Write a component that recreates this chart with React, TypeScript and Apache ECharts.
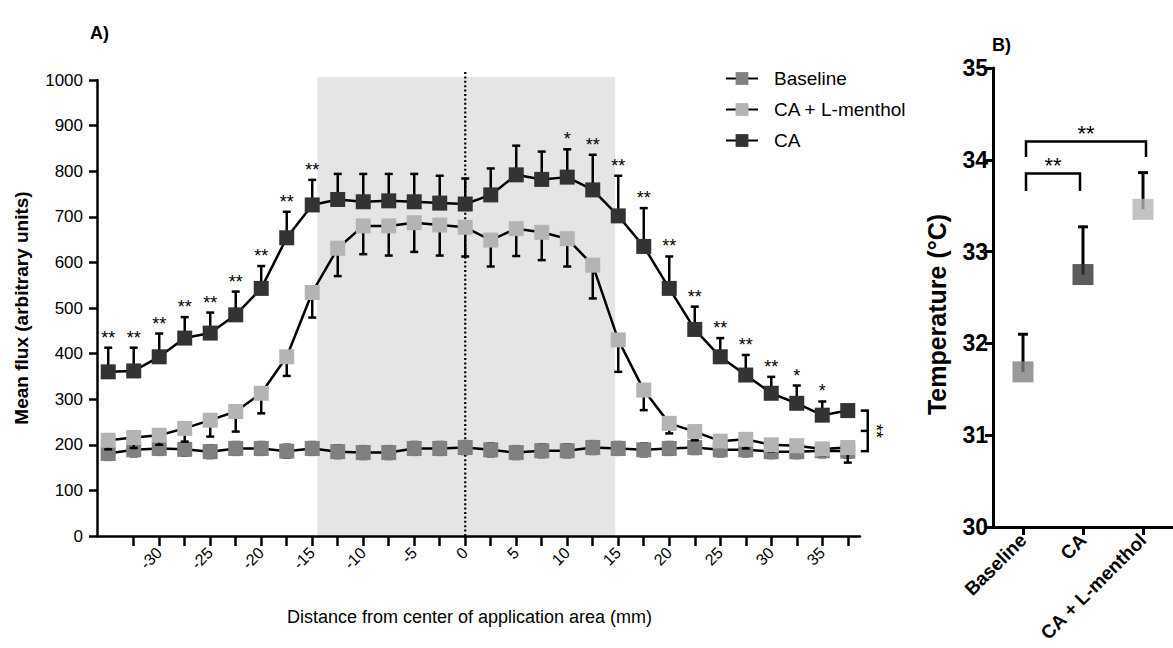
import React, { useEffect, useRef } from "react";
import * as echarts from "echarts";

// ---------- Panel A data ----------
const distances = [-35, -32.5, -30, -27.5, -25, -22.5, -20, -17.5, -15, -12.5, -10, -7.5, -5, -2.5, 0, 2.5, 5, 7.5, 10, 12.5, 15, 17.5, 20, 22.5, 25, 27.5, 30, 32.5, 35, 37.5];
const baseline = [181, 189, 192, 190, 185, 192, 192, 186, 192, 185, 183, 183, 192, 192, 194, 189, 183, 187, 187, 194, 192, 189, 192, 194, 189, 189, 185, 185, 187, 186];
const baselineErr = [14, 14, 14, 14, 14, 14, 14, 14, 14, 14, 14, 14, 14, 14, 14, 14, 14, 14, 14, 14, 14, 14, 14, 14, 14, 14, 14, 14, 14, 14];
const caMenthol = [210, 216, 221, 236, 254, 273, 313, 393, 534, 631, 680, 680, 687, 682, 677, 649, 674, 666, 652, 594, 430, 320, 247, 229, 208, 212, 200, 198, 191, 194];
const caMentholLow = [190, 193, 200, 207, 218, 229, 269, 351, 479, 570, 618, 615, 623, 615, 613, 591, 614, 605, 591, 521, 360, 276, 225, 210, 195, 192, 185, 185, 177, 161];
const ca = [360, 362, 393, 434, 445, 485, 543, 654, 726, 738, 733, 735, 733, 730, 728, 748, 792, 782, 787, 759, 702, 635, 543, 453, 393, 353, 313, 291, 265, 275];
const caHigh = [413, 413, 444, 480, 490, 536, 592, 711, 781, 794, 794, 794, 794, 790, 784, 806, 856, 843, 848, 836, 790, 719, 613, 503, 434, 397, 349, 330, 295, 278];
const caStars = ["**", "**", "**", "**", "**", "**", "**", "**", "**", "", "", "", "", "", "", "", "", "", "*", "**", "**", "**", "**", "**", "**", "**", "**", "*", "*", ""];
const xTickValues = [-32.5, -30, -27.5, -25, -22.5, -20, -17.5, -15, -12.5, -10, -7.5, -5, -2.5, 0, 2.5, 5, 7.5, 10, 12.5, 15, 17.5, 20, 22.5, 25, 27.5, 30, 32.5, 35, 37.5];
const xLabelValues = [-30, -25, -20, -15, -10, -5, 0, 5, 10, 15, 20, 25, 30, 35];
const shadeRange = [-14.5, 14.7];
const seriesNames = ["Baseline", "CA + L-menthol", "CA"];
const groupStars = "**";

// ---------- Panel B data ----------
const tempCategories = ["Baseline", "CA", "CA + L-menthol"];
const tempMean = [31.69, 32.75, 33.46];
const tempErrTop = [32.1, 33.27, 33.86];
const tempComparisons = [
  { from: 0, to: 1, level: 33.85, leg: 33.66, label: "**" },
  { from: 0, to: 2, level: 34.2, leg: 34.03, label: "**" },
];

// ---------- styles ----------
const FONT = "'Liberation Sans', Arial, Helvetica, sans-serif";
const C_BASE = "#808080";
const C_MENTH = "#b4b4b4";
const C_CA = "#333333";
const tempColors = [C_BASE, C_CA, C_MENTH];

function errorBars(xs: number[], lows: number[], highs: number[], capLow: boolean, capHigh: boolean, z: number, xi: number, yi: number, lw: number, cap: number) {
  return {
    type: "custom",
    xAxisIndex: xi,
    yAxisIndex: yi,
    z,
    silent: true,
    clip: false,
    data: xs.map((x, i) => [x, lows[i], highs[i]]),
    renderItem: (params: any, api: any) => {
      const x = api.value(0);
      const p1 = api.coord([x, api.value(1)]);
      const p2 = api.coord([x, api.value(2)]);
      const st = { stroke: "#000", lineWidth: lw };
      const children: any[] = [
        { type: "line", shape: { x1: p1[0], y1: p1[1], x2: p2[0], y2: p2[1] }, style: st },
      ];
      if (capLow) children.push({ type: "line", shape: { x1: p1[0] - cap, y1: p1[1], x2: p1[0] + cap, y2: p1[1] }, style: st });
      if (capHigh) children.push({ type: "line", shape: { x1: p2[0] - cap, y1: p2[1], x2: p2[0] + cap, y2: p2[1] }, style: st });
      return { type: "group", children };
    },
  };
}

export default function App() {
  const ref = useRef<HTMLDivElement>(null);

  useEffect(() => {
    if (!ref.current) return;
    const chart = echarts.init(ref.current, null, { renderer: "svg" });
    const last = distances.length - 1;

    const option: any = {
      animation: false,
      textStyle: { fontFamily: FONT, color: "#000" },
      grid: [
        { left: 97, top: 80, width: 763, height: 456 },
        { left: 993, top: 68, width: 180, height: 459 },
      ],
      legend: {
        orient: "vertical",
        left: 725,
        top: 69,
        padding: 0,
        itemWidth: 32,
        itemHeight: 16,
        itemGap: 12,
        data: seriesNames,
        textStyle: { fontSize: 19, color: "#000", fontFamily: FONT, padding: [0, 0, 0, 11], lineHeight: 19 },
      },
      graphic: [
        { type: "text", left: 90, top: 24, style: { text: "A)", fontSize: 18, fontWeight: "bold", fontFamily: FONT, fill: "#000" } },
        { type: "text", left: 992, top: 36, style: { text: "B)", fontSize: 18, fontWeight: "bold", fontFamily: FONT, fill: "#000" } },
      ],
      xAxis: [
        {
          type: "value",
          gridIndex: 0,
          min: -36.1,
          max: 38.7,
          z: 10,
          axisLine: { show: true, onZero: false, lineStyle: { color: "#000", width: 2.5 } },
          axisTick: { show: true, customValues: xTickValues, length: 10, lineStyle: { color: "#000", width: 2.5 } },
          axisLabel: { customValues: xLabelValues, rotate: 45, fontSize: 16, color: "#000", margin: 14, fontFamily: FONT, formatter: (v: number) => String(v) },
          splitLine: { show: false },
          name: "Distance from center of application area (mm)",
          nameLocation: "middle",
          nameGap: 72,
          nameTextStyle: { fontSize: 18, color: "#000", fontFamily: FONT, padding: [0, 18, 0, 0] },
        },
        {
          type: "category",
          gridIndex: 1,
          data: tempCategories,
          boundaryGap: true,
          z: 10,
          axisLine: { show: true, onZero: false, lineStyle: { color: "#000", width: 3 } },
          axisTick: { show: true, alignWithLabel: true, length: 8, lineStyle: { color: "#000", width: 3 } },
          axisLabel: { interval: 0, rotate: 45, fontSize: 19, fontWeight: "bold", color: "#000", margin: 10, fontFamily: FONT },
          splitLine: { show: false },
        },
      ],
      yAxis: [
        {
          type: "value",
          gridIndex: 0,
          min: 0,
          max: 1000,
          interval: 100,
          z: 10,
          axisLine: { show: true, onZero: false, lineStyle: { color: "#000", width: 2.5 } },
          axisTick: { show: true, length: 8, lineStyle: { color: "#000", width: 2.5 } },
          axisLabel: { fontSize: 17, color: "#000", margin: 14, fontFamily: FONT, formatter: (v: number) => String(v) },
          splitLine: { show: false },
          name: "Mean flux (arbitrary units)",
          nameLocation: "middle",
          nameGap: 66,
          nameTextStyle: { fontSize: 19, fontWeight: "bold", color: "#000", fontFamily: FONT },
        },
        {
          type: "value",
          gridIndex: 1,
          min: 30,
          max: 35,
          interval: 1,
          z: 10,
          axisLine: { show: true, onZero: false, lineStyle: { color: "#000", width: 3 } },
          axisTick: { show: true, length: 8, lineStyle: { color: "#000", width: 3 } },
          axisLabel: { fontSize: 23, fontWeight: "bold", color: "#000", margin: 5, fontFamily: FONT },
          splitLine: { show: false },
          name: "Temperature (°C)",
          nameLocation: "middle",
          nameGap: 44,
          nameTextStyle: { fontSize: 25, fontWeight: "bold", color: "#000", fontFamily: FONT, padding: [0, 34, 0, 0] },
        },
      ],
      series: [
        // shaded application area + dotted center line
        {
          type: "custom",
          xAxisIndex: 0,
          yAxisIndex: 0,
          z: 0,
          silent: true,
          clip: false,
          data: [[shadeRange[0], shadeRange[1]]],
          renderItem: (params: any, api: any) => {
            const a = api.coord([api.value(0), 0]);
            const b = api.coord([api.value(1), 1000]);
            const c0 = api.coord([0, 0]);
            const c1 = api.coord([0, 1000]);
            return {
              type: "group",
              children: [
                { type: "rect", shape: { x: a[0], y: b[1] - 3, width: b[0] - a[0], height: a[1] - b[1] + 3 }, style: { fill: "#e5e5e5" } },
                { type: "line", shape: { x1: c0[0], y1: c0[1], x2: c1[0], y2: c1[1] - 9 }, style: { stroke: "#000", lineWidth: 2.2, lineDash: [2, 2.4] } },
              ],
            };
          },
        },
        errorBars(distances, baseline.map((v, i) => v - baselineErr[i]), baseline.map((v, i) => v + baselineErr[i]), true, true, 2, 0, 0, 2.5, 4),
        {
          name: seriesNames[0],
          type: "line",
          xAxisIndex: 0,
          yAxisIndex: 0,
          z: 3,
          data: distances.map((d, i) => [d, baseline[i]]),
          symbol: "rect",
          symbolSize: 15,
          itemStyle: { color: C_BASE },
          lineStyle: { color: "#000", width: 2.5 },
        },
        errorBars(distances, caMentholLow, caMenthol, true, false, 4, 0, 0, 2.5, 4),
        {
          name: seriesNames[1],
          type: "line",
          xAxisIndex: 0,
          yAxisIndex: 0,
          z: 5,
          data: distances.map((d, i) => [d, caMenthol[i]]),
          symbol: "rect",
          symbolSize: 15,
          itemStyle: { color: C_MENTH },
          lineStyle: { color: "#000", width: 2.5 },
        },
        errorBars(distances, ca, caHigh, false, true, 6, 0, 0, 2.5, 4),
        {
          name: seriesNames[2],
          type: "line",
          xAxisIndex: 0,
          yAxisIndex: 0,
          z: 7,
          data: distances.map((d, i) => [d, ca[i]]),
          symbol: "rect",
          symbolSize: 15,
          itemStyle: { color: C_CA },
          lineStyle: { color: "#000", width: 2.5 },
        },
        // significance stars above CA error bars
        {
          type: "custom",
          xAxisIndex: 0,
          yAxisIndex: 0,
          z: 8,
          silent: true,
          clip: false,
          data: distances.map((d, i) => [d, caHigh[i], i]).filter((r) => caStars[r[2]] !== ""),
          renderItem: (params: any, api: any) => {
            const p = api.coord([api.value(0), api.value(1)]);
            const txt = caStars[api.value(2)];
            return {
              type: "text",
              x: p[0],
              y: p[1] - 10,
              style: { text: txt, fill: "#000", fontSize: 18, fontFamily: FONT, align: "center", verticalAlign: "middle" },
            };
          },
        },
        // group bracket at right end
        {
          type: "custom",
          xAxisIndex: 0,
          yAxisIndex: 0,
          z: 8,
          silent: true,
          clip: false,
          data: [[distances[last], ca[last], baseline[last]]],
          renderItem: (params: any, api: any) => {
            const top = api.coord([api.value(0), api.value(1)]);
            const bot = api.coord([api.value(0), api.value(2)]);
            const x = top[0] + 20;
            const midY = (top[1] + bot[1]) / 2;
            const st = { stroke: "#000", lineWidth: 2.5 };
            return {
              type: "group",
              children: [
                { type: "line", shape: { x1: x, y1: top[1], x2: x, y2: bot[1] }, style: st },
                { type: "line", shape: { x1: x - 7, y1: top[1], x2: x + 1.2, y2: top[1] }, style: st },
                { type: "line", shape: { x1: x - 7, y1: bot[1], x2: x + 1.2, y2: bot[1] }, style: st },
                { type: "line", shape: { x1: x - 7, y1: midY, x2: x, y2: midY }, style: st },
                {
                  type: "text",
                  x: x + 8,
                  y: midY,
                  rotation: -Math.PI / 2,
                  style: { text: groupStars, fill: "#000", fontSize: 18, fontFamily: FONT, align: "center", verticalAlign: "middle" },
                },
              ],
            };
          },
        },
        // ---- Panel B ----
        errorBars([0, 1, 2], tempMean, tempErrTop, false, true, 4, 1, 1, 3, 5),
        {
          type: "scatter",
          xAxisIndex: 1,
          yAxisIndex: 1,
          z: 5,
          symbol: "rect",
          symbolSize: 21,
          data: tempMean.map((v, i) => ({ value: [i, v], itemStyle: { color: tempColors[i] } })),
        },
        {
          type: "custom",
          xAxisIndex: 1,
          yAxisIndex: 1,
          z: 6,
          silent: true,
          clip: false,
          data: tempComparisons.map((c, k) => [c.from, c.to, c.level, c.leg, k]),
          renderItem: (params: any, api: any) => {
            const a = api.coord([api.value(0), api.value(2)]);
            const b = api.coord([api.value(1), api.value(2)]);
            const legY = api.coord([api.value(0), api.value(3)])[1];
            const lbl = tempComparisons[api.value(4)].label;
            const x1 = a[0] + 3;
            const x2 = b[0] + (api.value(1) === 1 ? -3 : 3);
            const st = { stroke: "#000", lineWidth: 2.5 };
            return {
              type: "group",
              children: [
                { type: "polyline", shape: { points: [[x1, legY], [x1, a[1]], [x2, a[1]], [x2, legY]] }, style: { ...st, fill: "none" } },
                {
                  type: "text",
                  x: (x1 + x2) / 2,
                  y: a[1] - 8,
                  style: { text: lbl, fill: "#000", fontSize: 22, fontFamily: FONT, align: "center", verticalAlign: "middle" },
                },
              ],
            };
          },
        },
      ],
    };

    chart.setOption(option);
    return () => chart.dispose();
  }, []);

  return <div ref={ref} style={{ position: "absolute", left: 0, top: 0, width: 1173, height: 648, background: "#fff" }} />;
}
